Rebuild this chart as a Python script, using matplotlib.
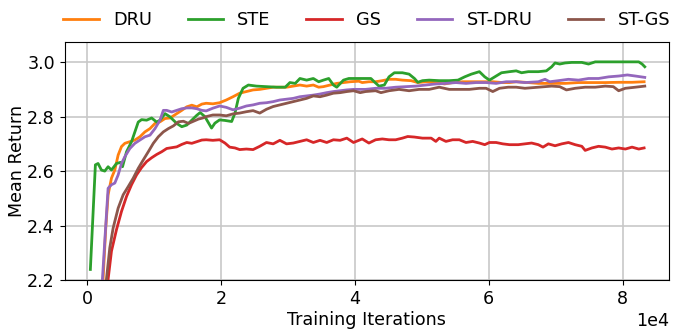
import numpy as np
import matplotlib
matplotlib.use("Agg")
import matplotlib.pyplot as plt

# (iteration, mean return) pairs
dru = np.array([
    (2200, 2.11), (2400, 2.203), (2800, 2.391), (3150, 2.513), (3650, 2.574), (4150, 2.604),
    (4650, 2.659), (5150, 2.690), (5650, 2.702), (6400, 2.708), (7150, 2.714), (7900, 2.726),
    (8650, 2.744), (9400, 2.756), (10150, 2.775), (10900, 2.781), (11650, 2.793), (12400, 2.795),
    (13400, 2.811), (14150, 2.823), (14900, 2.836), (15650, 2.842), (16400, 2.836), (17150, 2.846),
    (17800, 2.849), (18800, 2.847), (19800, 2.851), (20800, 2.861), (21800, 2.873), (22800, 2.886),
    (23800, 2.892), (24800, 2.898), (25800, 2.900), (26800, 2.904), (27800, 2.908), (28800, 2.908),
    (29800, 2.908), (30800, 2.912), (31800, 2.916), (32800, 2.912), (33800, 2.916), (34600, 2.908),
    (35300, 2.910), (36300, 2.916), (37300, 2.922), (38300, 2.925), (39300, 2.928), (40600, 2.930),
    (41100, 2.925), (42100, 2.928), (43100, 2.928), (44100, 2.932), (45100, 2.937), (46100, 2.937),
    (47100, 2.934), (48400, 2.932), (49400, 2.925), (50600, 2.928), (52100, 2.925), (53400, 2.920),
    (54600, 2.925), (56100, 2.928), (57600, 2.928), (59100, 2.928), (60600, 2.928), (62100, 2.925),
    (63100, 2.925), (64100, 2.928), (65400, 2.926), (67400, 2.922), (69400, 2.922), (71400, 2.922),
    (73400, 2.925), (75400, 2.925), (77400, 2.925), (79400, 2.926), (81400, 2.926), (83200, 2.928),
])

ste = np.array([
    (500, 2.239), (1250, 2.623), (1650, 2.628), (2150, 2.604), (2650, 2.600), (3150, 2.616),
    (3650, 2.604), (4400, 2.628), (5000, 2.632), (5300, 2.616), (5900, 2.671), (6650, 2.708),
    (7150, 2.744), (7650, 2.780), (8150, 2.789), (8900, 2.787), (9650, 2.795), (10400, 2.780),
    (10900, 2.787), (11650, 2.811), (12400, 2.799), (13400, 2.775), (14150, 2.763), (14900, 2.769),
    (15650, 2.787), (16400, 2.805), (16900, 2.815), (17600, 2.800), (18600, 2.758), (19100, 2.776),
    (19800, 2.788), (20600, 2.786), (21600, 2.782), (22100, 2.813), (22600, 2.867), (23300, 2.904),
    (24100, 2.916), (25300, 2.912), (26800, 2.910), (28300, 2.908), (29600, 2.908), (30300, 2.925),
    (31100, 2.922), (31800, 2.940), (32800, 2.934), (33800, 2.940), (34600, 2.928), (35300, 2.934),
    (36100, 2.940), (36800, 2.916), (37300, 2.908), (38300, 2.934), (39100, 2.940), (40900, 2.940),
    (42400, 2.940), (42900, 2.928), (43600, 2.912), (44400, 2.916), (45100, 2.946), (45900, 2.961),
    (47100, 2.961), (48100, 2.956), (48900, 2.940), (49400, 2.926), (50100, 2.932), (51100, 2.934),
    (52600, 2.932), (54100, 2.932), (55400, 2.934), (56400, 2.946), (57400, 2.956), (58600, 2.965),
    (59400, 2.946), (60100, 2.934), (60900, 2.946), (61900, 2.961), (63100, 2.965), (64100, 2.968),
    (64900, 2.961), (65900, 2.965), (67400, 2.965), (68600, 2.968), (69400, 2.983), (69900, 2.997),
    (70600, 2.993), (71400, 2.997), (72400, 2.999), (73900, 2.999), (74900, 2.993), (75900, 3.001),
    (77900, 3.001), (79900, 3.001), (82400, 3.001), (82900, 2.993), (83300, 2.983),
])

gs = np.array([
    (2900, 2.12), (3150, 2.203), (3650, 2.306), (4400, 2.385), (5150, 2.452), (5900, 2.507),
    (6650, 2.550), (7400, 2.586), (8150, 2.613), (8900, 2.635), (9650, 2.649), (10400, 2.661),
    (11150, 2.671), (11900, 2.683), (12650, 2.686), (13400, 2.689), (14150, 2.698), (14900, 2.705),
    (15650, 2.702), (16400, 2.708), (17150, 2.714), (17800, 2.715), (18800, 2.713), (19800, 2.715),
    (20600, 2.703), (21300, 2.688), (22100, 2.685), (22800, 2.679), (23800, 2.681), (24800, 2.679),
    (25800, 2.691), (26800, 2.705), (27800, 2.700), (28800, 2.713), (29800, 2.700), (30800, 2.703),
    (31800, 2.709), (32800, 2.715), (33800, 2.705), (34800, 2.713), (35800, 2.705), (36800, 2.715),
    (37800, 2.713), (38800, 2.721), (39800, 2.705), (41100, 2.718), (42100, 2.703), (43100, 2.715),
    (44100, 2.718), (45100, 2.715), (46100, 2.715), (47100, 2.721), (47900, 2.727), (48900, 2.725),
    (50100, 2.721), (51400, 2.721), (52100, 2.709), (52600, 2.721), (53600, 2.709), (54600, 2.715),
    (55600, 2.715), (56600, 2.705), (57600, 2.709), (58600, 2.703), (59400, 2.697), (60100, 2.705),
    (61100, 2.705), (62100, 2.700), (63100, 2.697), (64400, 2.697), (65400, 2.700), (66400, 2.703),
    (67400, 2.697), (68100, 2.688), (68900, 2.700), (69900, 2.693), (70900, 2.700), (71900, 2.705),
    (72900, 2.697), (73900, 2.691), (74400, 2.676), (75400, 2.685), (76400, 2.691), (77400, 2.688),
    (78400, 2.681), (79400, 2.685), (80400, 2.681), (81400, 2.688), (82400, 2.681), (83200, 2.685),
])

st_dru = np.array([
    (2200, 2.12), (2300, 2.203), (2650, 2.342), (3150, 2.537), (3650, 2.550), (4150, 2.556),
    (4650, 2.586), (5150, 2.628), (5650, 2.653), (6400, 2.683), (7150, 2.702), (7900, 2.714),
    (8650, 2.726), (9400, 2.732), (10150, 2.756), (10900, 2.787), (11400, 2.823), (11900, 2.823),
    (12650, 2.817), (13400, 2.823), (14150, 2.829), (14900, 2.832), (15650, 2.832), (16400, 2.829),
    (17150, 2.823), (17800, 2.821), (18800, 2.831), (19800, 2.839), (20800, 2.834), (21800, 2.825),
    (22800, 2.831), (23800, 2.839), (24800, 2.843), (25800, 2.849), (26800, 2.851), (27800, 2.855),
    (28800, 2.861), (29800, 2.864), (30800, 2.867), (31800, 2.873), (32800, 2.876), (33800, 2.879),
    (34800, 2.883), (35800, 2.888), (36800, 2.892), (37800, 2.895), (38800, 2.898), (39800, 2.900),
    (41600, 2.900), (43100, 2.904), (44600, 2.904), (46100, 2.908), (47600, 2.910), (49100, 2.912),
    (50600, 2.916), (52100, 2.920), (53600, 2.922), (55100, 2.925), (56600, 2.922), (58100, 2.925),
    (59600, 2.925), (61100, 2.922), (62600, 2.928), (64100, 2.928), (65400, 2.925), (67400, 2.928),
    (68400, 2.937), (69100, 2.928), (70400, 2.932), (71900, 2.937), (73400, 2.934), (74900, 2.940),
    (76400, 2.940), (77900, 2.946), (79400, 2.949), (80700, 2.953), (81900, 2.949), (83300, 2.944),
])

st_gs = np.array([
    (2700, 2.12), (2900, 2.203), (3400, 2.318), (3900, 2.391), (4650, 2.464), (5400, 2.513),
    (6150, 2.543), (6900, 2.574), (7650, 2.610), (8400, 2.641), (9150, 2.671), (9900, 2.702),
    (10650, 2.726), (11400, 2.744), (12150, 2.756), (12900, 2.766), (13650, 2.781), (14400, 2.783),
    (15150, 2.775), (15900, 2.783), (16650, 2.791), (17300, 2.795), (17800, 2.800), (18800, 2.806),
    (19800, 2.806), (20800, 2.803), (21800, 2.810), (22800, 2.813), (23800, 2.818), (24800, 2.822),
    (25800, 2.813), (26800, 2.827), (27800, 2.837), (28800, 2.843), (29800, 2.849), (30800, 2.855),
    (31800, 2.861), (32800, 2.867), (33800, 2.876), (34800, 2.873), (35800, 2.879), (36800, 2.886),
    (37800, 2.888), (38800, 2.892), (39800, 2.895), (40800, 2.888), (41600, 2.892), (43100, 2.895),
    (43900, 2.888), (45100, 2.895), (46600, 2.900), (48100, 2.895), (49600, 2.900), (51100, 2.900),
    (52600, 2.908), (54100, 2.900), (55600, 2.900), (57100, 2.900), (58600, 2.904), (59600, 2.904),
    (60600, 2.892), (61600, 2.904), (62900, 2.908), (64100, 2.908), (65400, 2.904), (67400, 2.908),
    (69400, 2.912), (70600, 2.910), (71600, 2.898), (72900, 2.904), (74400, 2.908), (75900, 2.908),
    (77400, 2.912), (78600, 2.910), (79400, 2.895), (80400, 2.904), (81900, 2.908), (83300, 2.912),
])

labels = ["DRU", "STE", "GS", "ST-DRU", "ST-GS"]
series = [dru, ste, gs, st_dru, st_gs]
colors = ["tab:orange", "tab:green", "tab:red", "tab:purple", "tab:brown"]

plt.rcParams["font.size"] = 12.6

fig, ax = plt.subplots(figsize=(6.77, 3.35), dpi=100)
fig.subplots_adjust(left=0.0956, right=0.988, bottom=0.164, top=0.8755)

for pts, lab, c in zip(series, labels, colors):
    ax.plot(pts[:, 0], pts[:, 1], color=c, lw=2.0, label=lab)

ax.set_xlim(-3330, 86900)
ax.set_ylim(2.2, 3.075)
ax.set_yticks([2.2, 2.4, 2.6, 2.8, 3.0])
ax.set_xticks([0, 20000, 40000, 60000, 80000])
ax.ticklabel_format(axis="x", style="sci", scilimits=(0, 0))
ax.grid(True, color="#c8c8c8", linewidth=1.2)
ax.set_axisbelow(True)

ax.set_xlabel("Training Iterations", labelpad=2)
ax.set_ylabel("Mean Return", labelpad=1)
ax.legend(loc="lower center", bbox_to_anchor=(0.5, 0.985), ncol=5, frameon=False,
          columnspacing=2.0, handlelength=2.0, fontsize=12.8)

fig.savefig("out.png", dpi=100)
